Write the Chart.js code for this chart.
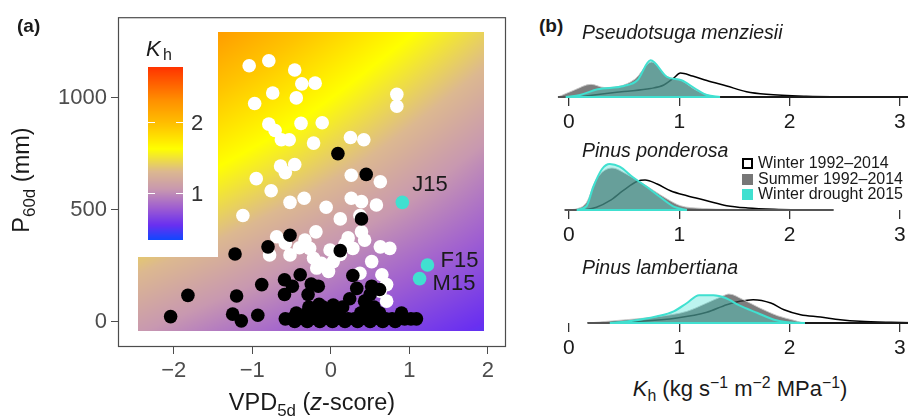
<!DOCTYPE html>
<html>
<head>
<meta charset="utf-8">
<script src="https://cdn.jsdelivr.net/npm/chart.js@4.4.1/dist/chart.umd.min.js"></script>
<style>
  body { margin: 0; width: 908px; height: 416px; overflow: hidden; position: relative; background: #fff;
         font-family: "Liberation Sans", Arial, sans-serif; color: #1a1a1a; }
  canvas { position: absolute; }
  .t { position: absolute; white-space: nowrap; line-height: 1; }
  .tag { font-weight: bold; font-size: 19px; }
  .sp { font-style: italic; font-size: 19.5px; }
  .leg { font-size: 16px; line-height: 15.5px; }
  .leg span.key { display: inline-block; width: 11px; height: 11px; margin-right: 5px; vertical-align: -1px; box-sizing: border-box; }
  sub, sup { font-size: 72%; line-height: 0; }
</style>
</head>
<body>
<canvas id="scatterA" width="520" height="416" style="left:0;top:0"></canvas>
<canvas id="ridge1" width="400" height="97" style="left:540px;top:37px"></canvas>
<canvas id="ridge2" width="400" height="97" style="left:540px;top:150px"></canvas>
<canvas id="ridge3" width="400" height="97" style="left:540px;top:263px"></canvas>

<div class="t tag" style="left:17px;top:16px">(a)</div>
<div class="t tag" style="left:539px;top:16px">(b)</div>
<div class="t" style="font-size:23.5px;left:312px;top:391px;transform:translateX(-50%)">VPD<sub>5d</sub> (<i>z</i>-score)</div>
<div class="t" style="font-size:23.5px;left:22px;top:180px;transform:translate(-50%,-50%) rotate(-90deg)">P<sub>60d</sub> (mm)</div>
<div id="spTitles"></div>
<div id="legendB" class="t leg" style="left:742px;top:155px"></div>
<div class="t" style="font-size:22px;left:740px;top:378px;transform:translateX(-50%)"><i>K</i><sub>h</sub> (kg s<sup>−1</sup> m<sup>−2</sup> MPa<sup>−1</sup>)</div>

<script>
// ---- panel (a) data ----
const xTicksA = [-2, -1, 0, 1, 2]
const yTicksA = [0, 500, 1000]

const winterX = [-1.04, -0.79, -0.46, -0.37, -0.20, -0.74, -0.44, -0.97, -0.38, -0.11, -0.79, -0.71, -0.63, -0.53, -0.22, 0.25, 0.42, 0.84, 0.84,
  -0.64, -0.46, -0.58, -0.95, -0.76, 0.26, 0.63, -0.52, -0.34, -0.06, 0.26, 0.39, 0.58, 0.12, -1.12, 0.37, -0.19, -0.69, -0.33, 0.22, 0.39,
  0.43, -0.27, -0.01, 0.28, 0.63, 0.75, -0.78, -0.52, -0.22, 0.52, -0.18, -0.03, 0.03, 0.37, 0.65, 0.71, 0.71, 0.63, -0.58, -0.40, -0.12, 0.12, 0.18]
const winterY = [1144, 1166, 1125, 1063, 1066, 1022, 1000, 975, 886, 889, 883, 854, 813, 813, 798, 823, 813, 1016, 963,
  695, 702, 666, 639, 585, 654, 625, 533, 551, 511, 551, 536, 521, 459, 474, 474, 401, 379, 364, 374, 401,
  364, 327, 320, 327, 334, 327, 298, 298, 283, 268, 239, 224, 268, 216, 209, 165, 91, 136, 350, 330, 260, 300, 345]

const summerX = [0.09, 0.45, 0.39, -0.52, -0.80, -1.22, 0.12, -0.39, -0.59, -0.88, -0.25, -0.16, -0.49, 0.28, -1.82, -1.20, -0.59, -0.29,
  0.33, 0.52, 0.62, 0.24, -2.04, -1.25, -1.14, -0.93, -0.15, 0.03, 0.43, 0.50,
  -0.58, -0.50, -0.42, -0.34, -0.26, -0.18, -0.10, -0.02, 0.06, 0.14, 0.22, 0.30, 0.38, 0.46, 0.54, 0.62, 0.70, 0.78, 0.86, 0.94, 1.02, 1.09,
  -0.46, -0.30, -0.14, 0.02, 0.18, 0.34, 0.50, 0.66, 0.82,
  -0.44, -0.30, -0.20, -0.05, 0.10, 0.38, 0.50, 0.62, 0.90,
  -0.28, -0.10, 0.15, 0.45, 0.55]
const summerY = [751, 658, 459, 386, 334, 302, 317, 209, 187, 165, 168, 158, 158, 206, 117, 114, 121, 121,
  148, 158, 143, 102, 22, 33, 3, 28, 77, 74, 91, 121,
  12, 12, 12, 12, 12, 12, 12, 12, 12, 12, 12, 12, 12, 12, 12, 12, 12, 12, 12, 12, 12, 12,
  0, 0, 0, 0, 0, 0, 0, 0, 0,
  38, 38, 38, 38, 38, 38, 38, 38, 38,
  65, 65, 65, 65, 65]

const droughtLabels = ["J15", "F15", "M15"]
const droughtX = [0.91, 1.23, 1.13]
const droughtY = [533, 253, 192]

// modelled Kh surface
const surfX = [-2.45, -1.45, -0.45, 0.55, 1.95]
const surfY = [-44, 300, 700, 1000, 1295]
const surfK = [
  [1.06, 0.92, 0.80, 0.68, 0.52],
  [1.38, 1.24, 1.08, 0.93, 0.74],
  [1.80, 1.63, 1.45, 1.26, 0.98],
  [2.10, 1.92, 1.72, 1.50, 1.20],
  [2.40, 2.22, 1.98, 1.74, 1.42],
]
const surfNotchX = -1.44   // no surface left of this and above surfNotchY
const surfNotchY = 290

// colour scale for Kh
const khMin = 0.34
const khMax = 2.77
const khTicks = [1, 2]
const khStops = [0.34, 0.55, 0.80, 1.05, 1.30, 1.62, 1.95, 2.30, 2.77]
const khColors = ["#1048ff", "#6a30f0", "#a060d0", "#c898b0", "#dcb890", "#ffff00", "#ffc400", "#ff9000", "#ff3300"]

// ---- panel (b) data ----
const seriesNames = ["Winter 1992–2014", "Summer 1992–2014", "Winter drought 2015"]
const xTicksB = [0, 1, 2, 3]
const species = ["Pseudotsuga menziesii", "Pinus ponderosa", "Pinus lambertiana"]

const psmeWinterX = [0.08, 0.30, 0.50, 0.74, 0.86, 0.95, 1.01, 1.12, 1.25, 1.43, 1.61, 1.79, 2.15, 2.60, 3.10]
const psmeWinterH = [0, 3, 5.5, 8.5, 12, 19, 24, 21, 16.5, 11, 5.3, 2.7, 0.8, 0.3, 0.1]
const psmeSummerX = [-0.10, 0.05, 0.20, 0.32, 0.45, 0.60, 0.75, 0.88, 1.02, 1.15, 1.31]
const psmeSummerH = [0, 7, 12.7, 9.5, 10.5, 18, 35, 21, 16.5, 7, 0]
const psmeDroughtX = [-0.03, 0.10, 0.26, 0.50, 0.62, 0.74, 0.89, 1.02, 1.15, 1.25, 1.37]
const psmeDroughtH = [0, 2, 7.7, 11, 16.7, 36.7, 20, 16.7, 8, 2, 0]

const pipoWinterX = [0.13, 0.25, 0.37, 0.49, 0.62, 0.69, 0.80, 0.92, 1.07, 1.25, 1.43, 1.62, 1.86, 2.20]
const pipoWinterH = [0, 2.7, 9.3, 19.3, 28.7, 30, 26, 19.3, 14.3, 9.3, 4.3, 2, 0.7, 0]
const pipoSummerX = [-0.04, 0.08, 0.16, 0.25, 0.39, 0.52, 0.65, 0.77, 0.89, 1.01, 1.19, 1.55, 2.40]
const pipoSummerH = [0, 1.5, 7.7, 31, 42, 36, 27.7, 19.3, 11, 4.3, 1.7, 0.5, 0]
const pipoDroughtX = [0.07, 0.16, 0.22, 0.30, 0.37, 0.46, 0.58, 0.71, 0.83, 0.95, 1.07]
const pipoDroughtH = [0, 4, 23, 41, 46, 43.3, 32.7, 22.7, 12.7, 3.3, 0]

const pilaWinterX = [0.17, 0.65, 0.98, 1.25, 1.43, 1.55, 1.67, 1.83, 1.95, 2.10, 2.28, 2.46, 2.64, 2.92, 3.20]
const pilaWinterH = [0, 1.7, 5, 10.7, 18.3, 21.7, 23.3, 20, 13.3, 8.3, 6, 3.3, 1.7, 0.7, 0.2]
const pilaSummerX = [0.17, 0.52, 0.83, 1.07, 1.25, 1.39, 1.45, 1.58, 1.73, 1.89, 2.04, 2.12]
const pilaSummerH = [0, 3.3, 6.7, 11.7, 20, 26.7, 29, 23.3, 15, 7.3, 2.7, 0]
const pilaDroughtX = [0.37, 0.58, 0.80, 0.95, 1.07, 1.18, 1.31, 1.42, 1.55, 1.71, 1.86, 1.96, 2.14]
const pilaDroughtH = [0, 2.3, 6.7, 11.7, 20, 27.7, 27.7, 25, 17.3, 10, 3.3, 1, 0]

// ---- helpers ----
const FONT = "'Liberation Sans', Arial, sans-serif"
const pts = (xs, ys) => xs.map((x, i) => ({ x, y: ys[i] }))
const minus = (v) => (v < 0 ? "−" + Math.abs(v) : String(v))
const hexRGB = (h) => [1, 3, 5].map((i) => parseInt(h.slice(i, i + 2), 16))
const khRGB = khColors.map(hexRGB)

function khColor(k) {
  if (k <= khStops[0]) return khRGB[0]
  for (let i = 1; i < khStops.length; i++) {
    if (k <= khStops[i]) {
      const t = (k - khStops[i - 1]) / (khStops[i] - khStops[i - 1])
      return khRGB[i - 1].map((c, j) => c + (khRGB[i][j] - c) * t)
    }
  }
  return khRGB[khRGB.length - 1]
}

function cell(arr, v) {
  let i = 0
  while (i < arr.length - 2 && v > arr[i + 1]) i++
  const t = Math.min(1, Math.max(0, (v - arr[i]) / (arr[i + 1] - arr[i])))
  return [i, t]
}

function surfaceK(vx, vy) {
  const [i, tx] = cell(surfX, vx)
  const [j, ty] = cell(surfY, vy)
  const a = surfK[j][i] * (1 - tx) + surfK[j][i + 1] * tx
  const b = surfK[j + 1][i] * (1 - tx) + surfK[j + 1][i + 1] * tx
  return a * (1 - ty) + b * ty
}

// background Kh surface, drawn through the chart scales
const surfacePlugin = {
  id: "surface",
  beforeDatasetsDraw(chart) {
    const { ctx, scales: { x, y } } = chart
    const x0 = Math.round(x.getPixelForValue(surfX[0]))
    const x1 = Math.round(x.getPixelForValue(surfX[surfX.length - 1]))
    const y0 = Math.round(y.getPixelForValue(surfY[surfY.length - 1]))
    const y1 = Math.round(y.getPixelForValue(surfY[0]))
    const w = x1 - x0, h = y1 - y0
    const off = document.createElement("canvas")
    off.width = w
    off.height = h
    const octx = off.getContext("2d")
    const img = octx.createImageData(w, h)
    for (let j = 0; j < h; j++) {
      const vy = y.getValueForPixel(y0 + j + 0.5)
      for (let i = 0; i < w; i++) {
        const vx = x.getValueForPixel(x0 + i + 0.5)
        if (vx < surfNotchX && vy > surfNotchY) continue
        const c = khColor(surfaceK(vx, vy))
        const p = (j * w + i) * 4
        img.data[p] = c[0]
        img.data[p + 1] = c[1]
        img.data[p + 2] = c[2]
        img.data[p + 3] = 255
      }
    }
    octx.putImageData(img, 0, 0)
    ctx.drawImage(off, x0, y0)
  },
}

// panel frame, colour bar and point labels
const decorPlugin = {
  id: "decor",
  afterDraw(chart) {
    const { ctx, chartArea: a } = chart
    ctx.save()
    ctx.strokeStyle = "#4d4d4d"
    ctx.lineWidth = 1.2
    ctx.strokeRect(a.left + 0.5, a.top + 0.5, a.right - a.left - 1, a.bottom - a.top - 1)

    // colour bar
    const bx = 148, bw = 35, bTop = 67, bBot = 240
    const kPix = (k) => bBot - ((k - khMin) / (khMax - khMin)) * (bBot - bTop)
    for (let py = bTop; py < bBot; py++) {
      const c = khColor(khMin + ((bBot - py - 0.5) / (bBot - bTop)) * (khMax - khMin))
      ctx.fillStyle = `rgb(${c[0] | 0},${c[1] | 0},${c[2] | 0})`
      ctx.fillRect(bx, py, bw, 1)
    }
    ctx.strokeStyle = "#fff"
    ctx.lineWidth = 1
    ctx.fillStyle = "#333"
    ctx.font = `22px ${FONT}`
    ctx.textBaseline = "middle"
    khTicks.forEach((k) => {
      const py = Math.round(kPix(k)) + 0.5
      ctx.beginPath()
      ctx.moveTo(bx, py); ctx.lineTo(bx + 7, py)
      ctx.moveTo(bx + bw - 7, py); ctx.lineTo(bx + bw, py)
      ctx.stroke()
      ctx.fillText(String(k), 191, py + 1)
    })
    ctx.fillStyle = "#1a1a1a"
    ctx.textBaseline = "alphabetic"
    ctx.font = `italic 22px ${FONT}`
    ctx.fillText("K", 146, 56)
    ctx.font = `16px ${FONT}`
    ctx.fillText("h", 163, 60)

    // labels next to the 2015 points
    const meta = chart.getDatasetMeta(2)
    const offs = [[10, -17], [13, -4], [13, 5]]
    ctx.font = `22px ${FONT}`
    ctx.textBaseline = "middle"
    meta.data.forEach((pt, i) => {
      ctx.fillText(droughtLabels[i], pt.x + offs[i][0], pt.y + offs[i][1])
    })
    ctx.restore()
  },
}

new Chart(document.getElementById("scatterA"), {
  type: "scatter",
  data: {
    datasets: [
      { label: "Summer", data: pts(summerX, summerY), backgroundColor: "#000", order: 1 },
      { label: "Winter", data: pts(winterX, winterY), backgroundColor: "#fff", order: 2 },
      { label: "Winter drought 2015", data: pts(droughtX, droughtY), backgroundColor: "#40e0d0", order: 0 },
    ],
  },
  options: {
    responsive: false,
    animation: false,
    events: [],
    layout: { padding: { top: 12, right: 14, left: 0, bottom: 0 } },
    elements: { point: { radius: 6.8, borderWidth: 0 } },
    plugins: { legend: { display: false }, tooltip: { enabled: false } },
    scales: {
      x: {
        type: "linear",
        min: -2.71,
        max: 2.23,
        afterBuildTicks: (s) => { s.ticks = xTicksA.map((v) => ({ value: v })) },
        afterFit: (s) => { s.height = 69 },
        grid: { drawOnChartArea: false, drawTicks: true, tickLength: 7, color: "#4d4d4d" },
        border: { display: false },
        ticks: { color: "#4d4d4d", padding: 4, font: { size: 22, family: FONT }, callback: (v) => minus(v) },
      },
      y: {
        type: "linear",
        min: -114,
        max: 1361,
        afterBuildTicks: (s) => { s.ticks = yTicksA.map((v) => ({ value: v })) },
        afterFit: (s) => { s.width = 118 },
        grid: { drawOnChartArea: false, drawTicks: true, tickLength: 7, color: "#4d4d4d" },
        border: { display: false },
        ticks: { color: "#4d4d4d", padding: 4, font: { size: 22, family: FONT }, callback: (v) => String(v) },
      },
    },
  },
  plugins: [surfacePlugin, decorPlugin],
})

// ---- panel (b) ----
const seriesStyle = [
  { line: "#000", fill: false, width: 1.5, base: "#1a1a1a", order: 3 },
  { line: "rgba(200,200,200,0.9)", fill: "rgba(70,70,70,0.7)", width: 1, base: "#555", order: 2 },
  { line: "#40e0d0", fill: "rgba(64,224,208,0.35)", width: 2, base: "#40e0d0", order: 1 },
]

// baseline of each density over its range
const baselinePlugin = {
  id: "baseline",
  afterDatasetsDraw(chart) {
    const { ctx, scales: { x, y } } = chart
    const y0 = y.getPixelForValue(0)
    ctx.save()
    ctx.lineWidth = 2
    ;[0, 1, 2].forEach((i) => {
      const d = chart.data.datasets[i].data
      ctx.strokeStyle = seriesStyle[i].base
      ctx.beginPath()
      ctx.moveTo(x.getPixelForValue(d[0].x), y0)
      ctx.lineTo(x.getPixelForValue(d[d.length - 1].x), y0)
      ctx.stroke()
    })
    ctx.restore()
  },
}

function ridge(id, sets) {
  new Chart(document.getElementById(id), {
    type: "line",
    data: {
      datasets: sets.map(([xs, hs], i) => ({
        label: seriesNames[i],
        data: pts(xs, hs),
        borderColor: seriesStyle[i].line,
        borderWidth: seriesStyle[i].width,
        backgroundColor: seriesStyle[i].fill || "transparent",
        fill: seriesStyle[i].fill ? "origin" : false,
        order: seriesStyle[i].order,
      })),
    },
    options: {
      responsive: false,
      animation: false,
      events: [],
      layout: { padding: { left: 6.9, right: 18.1, top: 0, bottom: 0 } },
      elements: { point: { radius: 0 }, line: { cubicInterpolationMode: "monotone" } },
      plugins: { legend: { display: false }, tooltip: { enabled: false } },
      scales: {
        x: {
          type: "linear",
          min: -0.2,
          max: 3.2,
          afterBuildTicks: (s) => { s.ticks = xTicksB.map((v) => ({ value: v })) },
          afterFit: (s) => { s.height = 37 },
          grid: { drawOnChartArea: false, drawTicks: true, tickLength: 9, color: "#333", lineWidth: 1.3 },
          border: { display: false },
          ticks: { color: "#1a1a1a", padding: 4, font: { size: 21, family: FONT } },
        },
        y: { display: false, min: 0, max: 60 },
      },
    },
    plugins: [baselinePlugin],
  })
}

ridge("ridge1", [[psmeWinterX, psmeWinterH], [psmeSummerX, psmeSummerH], [psmeDroughtX, psmeDroughtH]])
ridge("ridge2", [[pipoWinterX, pipoWinterH], [pipoSummerX, pipoSummerH], [pipoDroughtX, pipoDroughtH]])
ridge("ridge3", [[pilaWinterX, pilaWinterH], [pilaSummerX, pilaSummerH], [pilaDroughtX, pilaDroughtH]])

// species titles and legend
const titleTops = [23, 140.7, 257.7]
document.getElementById("spTitles").innerHTML = species
  .map((s, i) => `<div class="t sp" style="left:582px;top:${titleTops[i]}px">${s}</div>`)
  .join("")

const keyStyle = [
  "background:#fff;border:2px solid #000",
  "background:#777",
  "background:#40e0d0",
]
document.getElementById("legendB").innerHTML = seriesNames
  .map((n, i) => `<div><span class="key" style="${keyStyle[i]}"></span>${n}</div>`)
  .join("")
</script>
</body>
</html>
